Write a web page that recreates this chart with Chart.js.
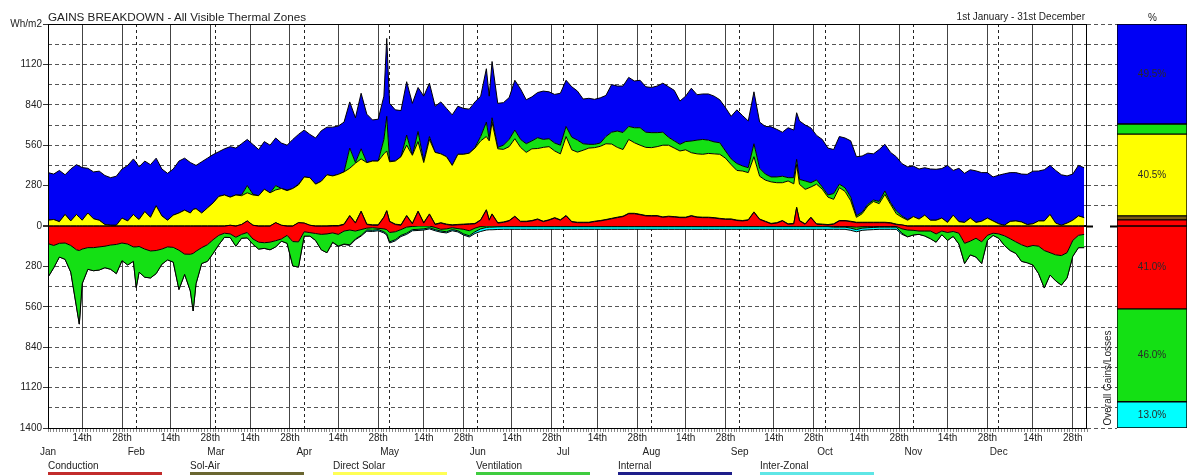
<!DOCTYPE html>
<html><head><meta charset="utf-8">
<script src="https://cdn.jsdelivr.net/npm/chart.js@4"></script>
<style>
html,body{margin:0;padding:0;background:#fff;}
#wrap{position:relative;width:1187px;height:476px;overflow:hidden;font-family:Arial,"Liberation Sans",sans-serif;color:#222;}
#main{position:absolute;left:0;top:0;}
#pct{position:absolute;left:1117px;top:0;}
.t{position:absolute;white-space:nowrap;font-size:10px;line-height:12px;}
.lg{position:absolute;height:3px;width:114px;top:472px;}
</style></head>
<body><div id="wrap">
<canvas id="main" width="1187" height="476"></canvas>
<canvas id="pct" width="70" height="476"></canvas>
<div class="t" style="left:48px;top:10px;font-size:11.7px;line-height:13px;">GAINS BREAKDOWN - All Visible Thermal Zones</div>
<div class="t" style="right:102px;top:11px;">1st January - 31st December</div>
<div class="t" style="left:1148px;top:12px;">%</div>
<div class="t" style="left:1060px;top:372px;width:96px;text-align:center;transform:rotate(-90deg);transform-origin:50% 50%;">Overall Gains/Losses</div>
</div>
<script>
const days = [
0,2,4,6,8,10,11,12,14,16,
18,20,22,24,26,28,30,31,32,34,
36,38,40,42,44,46,48,50,51,52,
54,56,58,60,62,64,66,68,70,72,
74,76,78,80,82,84,86,88,90,92,
94,96,98,100,102,104,106,108,110,112,
114,116,118,119,120,122,124,126,128,130,
132,134,136,138,140,142,144,146,148,150,
152,154,155,156,158,160,162,164,166,168,
170,172,174,176,178,180,182,184,186,188,
190,192,194,196,198,200,202,204,206,208,
210,212,214,216,218,220,222,224,226,228,
230,232,234,236,238,240,242,244,246,248,
250,252,254,256,258,260,262,263,264,266,
268,270,272,274,276,278,280,282,284,286,
288,290,292,294,296,298,300,302,304,306,
308,310,312,314,316,318,320,322,324,326,
328,330,332,334,336,338,340,342,344,346,
348,350,352,354,356,358,360,362,364];

const conductionGain = [
0,0,0,0,0,0,0,0,0,0,
0,0,0,0,0,0,0,0,0,0,
0,0,0,0,0,0,0,0,0,0,
0,0,0,0,0,5,0,10,35,5,
0,0,0,23,5,0,0,23,20,5,
0,0,0,0,0,10,70,20,100,10,
5,5,60,104,30,10,5,70,15,100,
20,81,10,20,10,5,8,10,12,15,
40,110,40,81,20,25,35,65,30,30,
35,46,30,40,55,40,70,28,23,23,
23,30,35,42,50,58,65,85,85,78,
70,69,69,60,65,62,58,58,69,60,
58,58,55,50,46,46,38,35,40,95,
45,30,15,20,35,12,15,127,35,12,
58,12,10,7,12,35,35,30,23,23,
23,23,23,23,20,10,7,0,0,0,
0,0,0,0,0,0,0,0,0,0,
0,0,0,0,0,0,0,0,0,0,
0,0,0,0,0,0,0,0,0];

const solAirGain = [
0,0,0,0,0,0,0,0,0,0,
0,0,0,0,0,0,0,0,0,0,
0,0,0,0,0,0,0,0,0,0,
0,0,0,0,0,0,0,0,0,0,
0,0,0,0,0,0,0,0,0,0,
0,0,0,3,3,3,3,3,3,3,
3,3,3,3,3,3,3,3,3,3,
3,3,3,3,3,3,3,3,3,3,
3,3,3,3,3,3,3,3,3,3,
3,3,3,3,3,3,3,3,3,3,
3,3,3,3,3,3,3,3,3,3,
3,3,3,3,3,3,3,3,3,3,
3,3,3,3,3,3,3,3,3,3,
3,3,3,3,3,3,3,3,3,3,
3,3,3,3,3,3,3,3,3,3,
3,3,3,3,3,3,0,0,0,0,
0,0,0,0,0,0,0,0,0,0,
0,0,0,0,0,0,0,0,0,0,
0,0,0,0,0,0,0,0,0];

const directSolarGain = [
40,45,30,80,35,80,60,40,90,50,
40,10,5,5,55,35,80,60,45,100,
60,140,70,40,75,90,110,90,115,120,
90,125,160,205,215,195,215,200,195,210,
210,255,230,227,255,245,260,262,320,330,
290,310,355,344,355,362,327,412,362,426,
442,442,437,413,412,437,472,487,472,482,
417,516,497,477,467,412,486,484,490,522,
547,507,547,636,512,503,512,537,512,477,
497,488,512,507,462,457,547,497,486,499,
514,510,514,525,515,484,462,512,489,479,
472,471,478,497,492,475,459,467,436,437,
436,442,442,444,421,376,344,343,327,382,
297,285,288,277,262,297,274,297,251,239,
209,275,242,190,170,228,202,142,34,59,
113,144,129,193,127,72,53,40,65,48,
75,40,40,55,25,75,30,25,55,25,
33,55,35,15,5,32,35,28,10,15,
35,35,80,20,5,20,40,70,58];

const ventilationGain = [
0,0,0,0,0,0,0,0,0,0,
0,0,0,0,0,0,0,0,0,0,
0,0,0,0,0,0,0,0,0,0,
0,0,0,0,0,0,0,5,50,5,
0,0,0,30,0,5,0,5,0,0,
0,0,0,0,0,0,140,5,70,1,
0,0,100,240,5,0,0,70,0,70,
10,20,0,0,0,0,0,0,0,5,
30,100,10,30,10,29,50,60,55,60,
55,75,55,55,55,60,70,87,83,45,
26,23,23,50,82,113,118,90,104,121,
105,104,97,90,55,50,46,57,81,95,
103,92,83,80,50,40,48,35,34,90,
55,42,34,40,45,23,43,35,34,58,
30,30,15,15,40,24,25,25,12,10,
11,10,15,24,12,19,9,5,0,0,
0,0,0,0,0,0,0,0,0,0,
0,0,0,0,0,0,0,0,0,0,
0,0,0,0,0,0,0,0,0];

const internalGain = [
330,315,355,275,360,345,355,365,310,325,
340,340,330,340,340,385,385,380,365,350,
365,330,325,325,320,360,360,350,315,300,
355,345,335,310,320,350,325,355,320,345,
320,330,330,330,315,310,340,345,325,300,
320,350,330,338,335,345,320,310,385,335,
285,290,300,540,400,355,320,370,360,305,
450,370,320,360,335,350,333,318,305,315,
280,370,300,390,305,295,290,345,350,305,
305,313,335,325,337,360,320,350,340,310,
319,312,313,285,330,312,322,340,324,329,
315,313,323,340,350,350,300,315,366,315,
315,320,317,298,300,295,372,349,324,360,
320,330,348,330,305,346,330,323,405,388,
380,308,330,325,305,330,345,390,408,390,
355,320,360,323,348,376,363,365,350,347,
329,355,353,343,395,310,370,340,335,357,
337,315,305,337,357,338,335,332,348,365,
346,355,340,365,350,327,320,350,346];

const conductionLoss = [
-122,-135,-120,-118,-135,-165,-170,-160,-150,-150,
-145,-140,-132,-128,-118,-125,-145,-145,-142,-160,
-173,-170,-160,-145,-148,-168,-195,-196,-190,-175,
-150,-130,-95,-65,-50,-55,-78,-58,-45,-90,
-112,-116,-112,-102,-90,-65,-108,-110,-40,-46,
-52,-58,-55,-48,-58,-35,-28,-35,-25,-15,
-12,-16,-20,-25,-45,-40,-25,-8,-3,0,
0,0,-10,-23,-20,-12,-18,-23,-33,-15,
-3,0,0,0,0,0,0,0,0,0,
0,0,0,0,0,0,0,0,0,0,
0,0,0,0,0,0,0,0,0,0,
0,0,0,0,0,0,0,0,0,0,
0,0,0,0,0,0,0,0,0,0,
0,0,0,0,0,0,0,0,0,0,
0,0,0,0,-3,-3,-3,-5,-8,-5,
-5,-5,-3,-3,-3,-3,-20,-28,-30,-35,
-35,-35,-55,-35,-45,-38,-50,-120,-105,-85,
-110,-65,-50,-55,-68,-88,-110,-130,-145,-135,
-140,-170,-185,-200,-205,-185,-100,-65,-58];

const ventilationLoss = [
-233,-155,-95,-113,-185,-395,-510,-240,-150,-160,
-160,-149,-168,-202,-122,-145,-100,-282,-178,-195,
-187,-160,-105,-90,-102,-272,-140,-254,-399,-225,
-110,-115,-95,-65,-28,-25,-62,-27,-37,-37,
-48,-39,-53,-43,-15,-55,-169,-175,-30,-24,
-48,-107,-130,-64,-81,-90,-102,-55,-40,-13,
-18,-9,-20,-30,-65,-55,-40,-42,-22,-23,
-20,-12,-15,-12,-20,-13,-15,-32,-35,-25,
-17,-10,-8,-8,-6,-5,-5,-5,-5,-5,
-5,-5,-5,-5,-5,-5,-5,-5,-5,-5,
-5,-5,-5,-5,-5,-5,-5,-5,-5,-5,
-5,-5,-5,-5,-5,-5,-5,-5,-5,-5,
-5,-5,-5,-5,-5,-5,-5,-5,-5,-5,
-5,-5,-5,-5,-5,-5,-5,-5,-5,-5,
-5,-5,-5,-5,-5,-5,-5,-10,-17,-10,
-7,-5,-5,-5,-5,-5,-30,-47,-32,-23,
-34,-53,-57,-25,-55,-34,-75,-140,-95,-130,
-150,-35,-15,-30,-67,-82,-80,-115,-110,-135,
-190,-260,-155,-180,-205,-175,-110,-85,-92];

const interZonalLoss = [
0,0,0,0,0,0,0,0,0,0,
0,0,0,0,0,0,0,0,0,0,
0,0,0,0,0,0,0,0,0,0,
0,0,0,0,0,0,0,0,0,0,
0,0,0,0,0,0,0,0,0,0,
0,0,0,-2,-3,-3,-5,-5,-5,-8,
-8,-8,-8,-8,-8,-8,-8,-8,-8,-8,
-8,-8,-8,-8,-8,-8,-8,-8,-8,-12,
-18,-18,-18,-18,-18,-18,-18,-18,-18,-18,
-18,-18,-18,-18,-18,-18,-18,-18,-18,-18,
-18,-18,-18,-18,-18,-18,-18,-18,-18,-18,
-18,-18,-18,-18,-18,-18,-18,-18,-18,-18,
-18,-18,-18,-18,-18,-18,-18,-18,-18,-18,
-18,-18,-18,-18,-18,-18,-18,-18,-18,-18,
-18,-18,-18,-18,-15,-15,-15,-15,-15,-15,
-15,-15,-15,-15,-15,-15,-8,0,0,0,
0,0,0,0,0,0,0,0,0,0,
0,0,0,0,0,0,0,0,0,0,
0,0,0,0,0,0,0,0,0];

const fortnightDays = [12,26,43,57,71,85,102,116,132,146,163,177,193,207,224,238,255,269,285,299,316,330,346,360];
const fortnightLabels = ['14th','28th','14th','28th','14th','28th','14th','28th','14th','28th','14th','28th',
                         '14th','28th','14th','28th','14th','28th','14th','28th','14th','28th','14th','28th'];
const monthDays = [0,31,59,90,120,151,181,212,243,273,304,334];
const monthLabels = ['Jan','Feb','Mar','Apr','May','Jun','Jul','Aug','Sep','Oct','Nov','Dec'];

const legendNames = ['Conduction','Sol-Air','Direct Solar','Ventilation','Internal','Inter-Zonal'];
const legendColors = ['#c22b2b','#6a6630','#ffff55','#3fcc3f','#1e1e8a','#5fe6e6'];

const pctNames = ['Conduction','Sol-Air','Direct Solar','Ventilation','Internal','Conduction','Ventilation','Inter-Zonal'];
const pctValues = [3.0, 2.0, 40.5, 5.0, 49.5, -41.0, -46.0, -13.0];

const C_RED = '#ff0000', C_OLIVE = '#7a5c12', C_YEL = '#ffff00', C_GRN = '#14e014', C_BLUE = '#0000f5', C_CYAN = '#00ffff';
const pctColors = [C_RED, C_OLIVE, C_YEL, C_GRN, C_BLUE, C_RED, C_GRN, C_CYAN];

Chart.defaults.font.family = 'Arial, "Liberation Sans", sans-serif';
Chart.defaults.font.size = 10;
Chart.defaults.color = '#222';

// legend (HTML)
const wrap = document.getElementById('wrap');
const legendX = [48, 190, 333, 476, 618, 760];
legendNames.forEach((n, i) => {
  const t = document.createElement('div');
  t.className = 't'; t.textContent = n;
  t.style.left = legendX[i] + 'px'; t.style.top = '460px';
  wrap.appendChild(t);
  const l = document.createElement('div');
  l.className = 'lg'; l.style.left = legendX[i] + 'px'; l.style.background = legendColors[i];
  wrap.appendChild(l);
});

function pts(arr) { return days.map((d, i) => ({ x: d, y: arr[i] })); }
function ds(label, arr, color, stack, fill) {
  return { label, data: pts(arr), backgroundColor: color, borderColor: '#000', borderWidth: 1,
           pointRadius: 0, pointHoverRadius: 0, fill, stack, tension: 0 };
}

const framePlugin = {
  id: 'frame',
  afterDraw(chart) {
    const a = chart.chartArea, c = chart.ctx;
    c.save(); c.strokeStyle = '#000'; c.lineWidth = 1;
    c.strokeRect(a.left + 0.5, a.top + 0.5, a.right - a.left - 1, a.bottom - a.top);
    c.restore();
  }
};

const tv = c => (c && c.tick) ? c.tick.value : null;

new Chart(document.getElementById('main'), {
  type: 'line',
  data: { datasets: [
    ds('Conduction', conductionGain, C_RED, 'gain', 'origin'),
    ds('Sol-Air', solAirGain, C_OLIVE, 'gain', '-1'),
    ds('Direct Solar', directSolarGain, C_YEL, 'gain', '-1'),
    ds('Ventilation', ventilationGain, C_GRN, 'gain', '-1'),
    ds('Internal', internalGain, C_BLUE, 'gain', '-1'),
    ds('Conduction', conductionLoss, C_RED, 'loss', 'origin'),
    ds('Ventilation', ventilationLoss, C_GRN, 'loss', '-1'),
    ds('Inter-Zonal', interZonalLoss, C_CYAN, 'loss', '-1')
  ]},
  options: {
    responsive: false, animation: false, devicePixelRatio: 1,
    layout: { padding: { top: 24, right: 70, left: 0, bottom: 0 } },
    plugins: { legend: { display: false }, tooltip: { enabled: false } },
    scales: {
      xd: { type: 'linear', axis: 'x', position: 'bottom', min: 0, max: 365, weight: 0,
        afterBuildTicks: s => { const t = []; for (let d = 0; d <= 365; d++) t.push({ value: d }); s.ticks = t; },
        afterFit: s => { s.height = 4; },
        ticks: { display: false, autoSkip: false },
        grid: { drawOnChartArea: false, drawTicks: true, tickLength: 4, color: '#888', tickColor: '#888' },
        border: { display: false } },
      x: { type: 'linear', position: 'bottom', min: 0, max: 365, weight: 1, z: 1,
        afterBuildTicks: s => { s.ticks = fortnightDays.map(v => ({ value: v })); },
        afterFit: s => { s.height = 14; },
        ticks: { autoSkip: false, maxRotation: 0, padding: 0, callback: (v, i) => fortnightLabels[i] },
        grid: { drawOnChartArea: true, drawTicks: false, color: '#444', lineWidth: 1 },
        border: { display: false } },
      xm: { type: 'linear', axis: 'x', position: 'bottom', min: 0, max: 365, weight: 2, z: 1,
        afterBuildTicks: s => { s.ticks = monthDays.map(v => ({ value: v })); },
        afterFit: s => { s.height = 30; },
        ticks: { autoSkip: false, maxRotation: 0, padding: 0, callback: (v, i) => monthLabels[i] },
        grid: { drawOnChartArea: true, drawTicks: false, color: '#222', lineWidth: 1 },
        border: { display: false, dash: [3, 3] } },
      y: { type: 'linear', stacked: true, min: -1400, max: 1400, z: 1,
        afterFit: s => { s.width = 48; },
        ticks: { stepSize: 140, autoSkip: false, padding: 1,
          callback: v => v === 1400 ? 'Wh/m2' : (v % 280 === 0 ? String(Math.abs(v)) : '') },
        grid: {
          color: c => { const v = tv(c); if (v === 0) return '#000'; if (v === 1400 || v === -1400) return 'rgba(0,0,0,0)'; return '#555'; },
          lineWidth: c => tv(c) === 0 ? 2 : 1,
          tickLength: 5,
          tickColor: c => { const v = tv(c); return (v !== null && v % 280 === 0) ? '#333' : 'rgba(0,0,0,0)'; }
        },
        border: { display: false, dash: c => { const v = tv(c); return (v === null || v === 0) ? [] : [4, 3]; } } },
      y2: { type: 'linear', position: 'right', min: -1400, max: 1400,
        afterFit: s => { s.width = 30; },
        ticks: { stepSize: 140, display: false },
        grid: { drawOnChartArea: false, drawTicks: true, tickLength: 30,
          tickColor: c => tv(c) === 0 ? '#000' : '#555',
          tickWidth: c => tv(c) === 0 ? 2 : 1,
          tickBorderDash: c => tv(c) === 0 ? [6, 17, 7, 0] : [4, 3] },
        border: { display: false } }
    }
  },
  plugins: [framePlugin]
});

const pctLabelPlugin = {
  id: 'pctLabels',
  afterDatasetsDraw(chart) {
    const c = chart.ctx;
    c.save();
    c.font = '10px Arial, "Liberation Sans", sans-serif';
    c.fillStyle = '#2a2a2a'; c.textAlign = 'center'; c.textBaseline = 'middle';
    chart.data.datasets.forEach((d, i) => {
      const v = d.data[0];
      if (Math.abs(v) < 10) return;
      const el = chart.getDatasetMeta(i).data[0];
      c.fillText(Math.abs(v).toFixed(1) + '%', el.x, (el.y + el.base) / 2);
    });
    c.restore();
  }
};

new Chart(document.getElementById('pct'), {
  type: 'bar',
  data: { labels: ['%'], datasets: pctValues.map((v, i) => ({
    label: pctNames[i], data: [v], backgroundColor: pctColors[i], borderColor: '#000',
    borderWidth: 1, borderSkipped: false, stack: 'p', barPercentage: 1, categoryPercentage: 1 })) },
  options: {
    responsive: false, animation: false, devicePixelRatio: 1,
    layout: { padding: { top: 24, bottom: 48, left: 0, right: 0 } },
    plugins: { legend: { display: false }, tooltip: { enabled: false } },
    scales: { x: { display: false, stacked: true }, y: { display: false, stacked: true, min: -100, max: 100 } }
  },
  plugins: [pctLabelPlugin]
});
</script>
</body></html>
